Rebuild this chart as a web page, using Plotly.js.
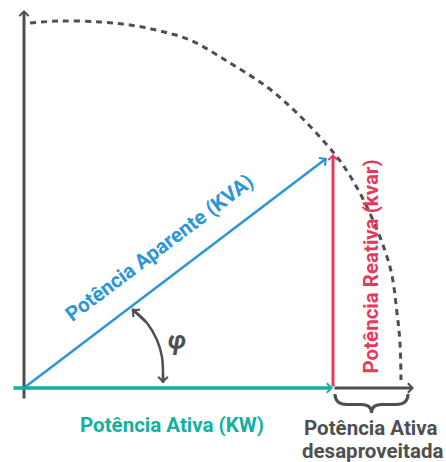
<!DOCTYPE html>
<html>
<head>
<meta charset="utf-8">
<script src="https://cdn.plot.ly/plotly-3.0.1.min.js"></script>
<style>html,body{margin:0;padding:0;background:#fff;}#chart{width:446px;height:462px;}</style>
</head>
<body>
<div id="chart"></div>
<script>
// Vector values (units: origin at the corner of the axes)
var activePower = 3.09;      // Potência Ativa (KW)
var reactivePower = 2.34;    // Potência Reativa (kvar)
var apparentTip = [3.03, 2.30];
var activeStart = -0.12;
var unusedEnd = 3.90;        // end of "desaproveitada" segment
var vAxis = [-0.12, 3.78];

// Dashed arc
var arcX = [0.06, 0.36, 0.76, 1.06, 1.36, 1.66, 2.06, 2.43, 2.73, 3.03, 3.19, 3.43, 3.66, 3.73, 3.76, 3.77];
var arcY = [3.65, 3.67, 3.66, 3.63, 3.57, 3.48, 3.25, 3.01, 2.75, 2.43, 2.23, 1.81, 1.21, 0.75, 0.45, 0.08];

// Angle phi arc
var phiX = [1.08, 1.23, 1.33, 1.38, 1.39, 1.39];
var phiY = [0.79, 0.65, 0.48, 0.31, 0.15, 0.05];

// Labels
var labelApparent = 'Potência Aparente (KVA)';
var labelReactive = 'Potência Reativa (kvar)';
var labelActive = 'Potência Ativa (KW)';
var labelUnused1 = 'Potência Ativa';
var labelUnused2 = 'desaproveitada';
var labelPhi = 'φ';

var teal = '#12b0a0', blue = '#2b96d6', red = '#e8395a', gray = '#4f4f51';
var font = 'Roboto, "Noto Sans", sans-serif';

var traces = [
  {x: arcX, y: arcY, mode: 'lines', line: {color: gray, width: 3, dash: '6px,5px', shape: 'spline'}, hoverinfo: 'skip'},
  {x: phiX, y: phiY, mode: 'lines', line: {color: gray, width: 2.5, shape: 'spline'}, hoverinfo: 'skip'}
];

function arrow(x0, y0, x1, y1, color, w, s) {
  return {x: x1, y: y1, ax: x0, ay: y0, xref: 'x', yref: 'y', axref: 'x', ayref: 'y',
    text: '', showarrow: true, arrowhead: 4, arrowsize: s, arrowwidth: w, arrowcolor: color, standoff: 0, startstandoff: 0};
}

var n = phiX.length;
var annotations = [
  arrow(0, vAxis[0], 0, vAxis[1], gray, 3, 0.6),
  arrow(activePower, 0, unusedEnd, 0, gray, 3, 0.6),
  arrow(activeStart, 0, activePower, 0, teal, 3.5, 0.52),
  arrow(activePower, 0, activePower, reactivePower, red, 3, 0.6),
  arrow(0, 0, apparentTip[0], apparentTip[1], blue, 2.5, 0.75),
  arrow(phiX[1], phiY[1], phiX[0], phiY[0], gray, 2.5, 0.75),
  arrow(phiX[n-2], phiY[n-2], phiX[n-1], phiY[n-1], gray, 2.5, 0.75),
  {x: 1.35, y: 1.40, xref: 'x', yref: 'y', text: '<b>' + labelApparent + '</b>', showarrow: false,
    textangle: -37, font: {family: font, size: 20.5, color: blue}},
  {x: 3.46, y: 1.215, xref: 'x', yref: 'y', text: '<b>' + labelReactive + '</b>', showarrow: false,
    textangle: -90, font: {family: font, size: 20.5, color: red}},
  {x: 1.475, y: -0.37, xref: 'x', yref: 'y', text: '<b>' + labelActive + '</b>', showarrow: false,
    font: {family: font, size: 20.5, color: teal}},
  {x: 3.47, y: -0.40, xref: 'x', yref: 'y', text: '<b>' + labelUnused1 + '</b>', showarrow: false,
    font: {family: font, size: 20.5, color: gray}},
  {x: 3.48, y: -0.63, xref: 'x', yref: 'y', text: '<b>' + labelUnused2 + '</b>', showarrow: false,
    font: {family: font, size: 20.5, color: gray}},
  {x: 1.53, y: 0.48, xref: 'x', yref: 'y', text: '<b><i>' + labelPhi + '</i></b>', showarrow: false,
    font: {family: font, size: 25, color: gray}}
];

// Curly brace under the unused segment
var bx0 = activePower + 0.02, bx1 = unusedEnd - 0.06, bTop = -0.06, bDepth = 0.19;
var bm = (bx0 + bx1) / 2, bMid = bTop - bDepth * 0.55;
var bracePath = 'M' + bx0 + ',' + bTop +
  ' Q' + bx0 + ',' + bMid + ' ' + (bx0 + 0.12) + ',' + bMid +
  ' L' + (bm - 0.10) + ',' + bMid +
  ' Q' + bm + ',' + bMid + ' ' + bm + ',' + (bTop - bDepth) +
  ' Q' + bm + ',' + bMid + ' ' + (bm + 0.10) + ',' + bMid +
  ' L' + (bx1 - 0.12) + ',' + bMid +
  ' Q' + bx1 + ',' + bMid + ' ' + bx1 + ',' + bTop;

var layout = {
  width: 446, height: 462,
  margin: {l: 0, r: 0, t: 0, b: 0},
  paper_bgcolor: '#ffffff', plot_bgcolor: '#ffffff',
  showlegend: false,
  xaxis: {range: [-0.24, 4.22], visible: false, fixedrange: true},
  yaxis: {range: [-0.74, 3.88], visible: false, fixedrange: true},
  annotations: annotations,
  shapes: [{type: 'path', path: bracePath, xref: 'x', yref: 'y', line: {color: gray, width: 3}}]
};

Plotly.newPlot('chart', traces, layout, {staticPlot: true, displayModeBar: false});
</script>
</body>
</html>
